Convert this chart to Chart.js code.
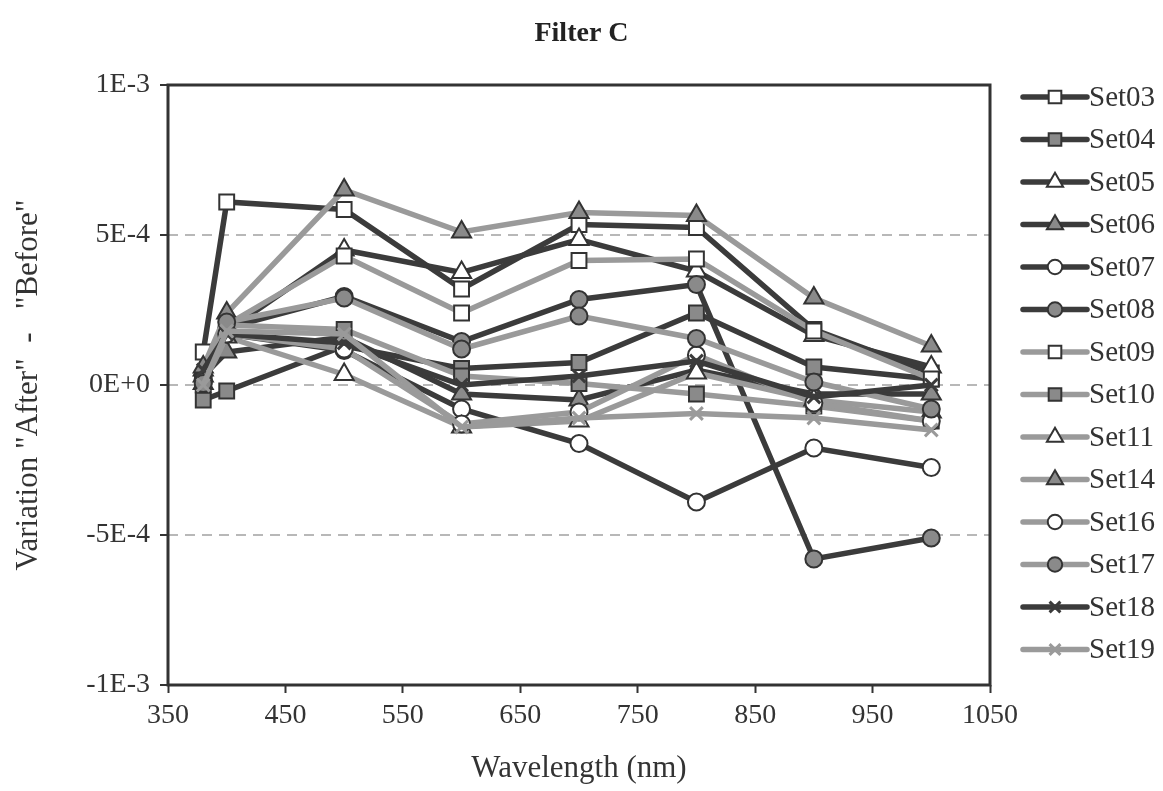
<!DOCTYPE html>
<html>
<head>
<meta charset="utf-8">
<script src="https://cdn.jsdelivr.net/npm/chart.js@4"></script>
<style>
  html, body { margin: 0; padding: 0; background: #fff; }
  #wrap { width: 1163px; height: 791px; }
</style>
</head>
<body>
<div id="wrap"><canvas id="chart" width="1163" height="791"></canvas></div>
<script>
// wavelengths (nm)
var wavelengths = [380, 400, 500, 600, 700, 800, 900, 1000];

// variation values, in units of 1E-4
var set03 = [1.1, 6.1, 5.85, 3.2, 5.35, 5.25, 1.85, 0.4];
var set04 = [-0.5, -0.2, 1.3, 0.55, 0.75, 2.4, 0.6, 0.2];
var set05 = [0.5, 1.8, 4.5, 3.75, 4.85, 3.8, 1.65, 0.6];
var set06 = [0.3, 1.1, 1.6, -0.3, -0.5, 0.5, -0.3, -0.3];
var set07 = [0.3, 1.7, 1.15, -0.8, -1.95, -3.9, -2.1, -2.75];
var set08 = [0.2, 1.9, 2.95, 1.45, 2.85, 3.35, -5.8, -5.1];
var set09 = [0.1, 2.0, 4.3, 2.4, 4.15, 4.2, 1.8, 0.2];
var set10 = [0.0, 2.0, 1.85, 0.3, 0.05, -0.3, -0.7, -1.2];
var set11 = [0.05, 1.6, 0.35, -1.4, -1.2, 0.4, -0.5, -0.9];
var set14 = [0.6, 2.4, 6.5, 5.1, 5.75, 5.65, 2.9, 1.3];
var set16 = [0.1, 1.7, 1.2, -1.3, -0.9, 1.0, -0.6, -1.2];
var set17 = [0.05, 2.1, 2.9, 1.2, 2.3, 1.55, 0.1, -0.8];
var set18 = [0.5, 1.7, 1.4, 0.0, 0.3, 0.8, -0.4, 0.0];
var set19 = [0.0, 1.8, 1.7, -1.4, -1.1, -0.95, -1.1, -1.5];

var setNames = ["Set03", "Set04", "Set05", "Set06", "Set07", "Set08", "Set09",
                "Set10", "Set11", "Set14", "Set16", "Set17", "Set18", "Set19"];
var setValues = [set03, set04, set05, set06, set07, set08, set09,
                 set10, set11, set14, set16, set17, set18, set19];

var yTicks = [-10, -5, 0, 5, 10];

var DARK = "#3b3b3b";
var GRAY = "#9a9a9a";
var FILL = "#8a8a8a";
var EDGE = "#333333";
var SERIF = "'Liberation Serif', 'Times New Roman', serif";

// line colour, marker shape, marker filled?
var looks = [
    [DARK, "rect", false], [DARK, "rect", true], [DARK, "triangle", false], [DARK, "triangle", true],
    [DARK, "circle", false], [DARK, "circle", true], [GRAY, "rect", false], [GRAY, "rect", true],
    [GRAY, "triangle", false], [GRAY, "triangle", true], [GRAY, "circle", false], [GRAY, "circle", true],
    [DARK, "crossRot", false], [GRAY, "crossRot", false]
];

function markerRadius(shape) {
    if (shape == "rect") return 10.5;
    if (shape == "triangle") return 11;
    if (shape == "circle") return 8.5;
    return 9;
}

var datasets = [];
for (var i = 0; i < setNames.length; i++) {
    var lk = looks[i];
    var pts = [];
    for (var j = 0; j < wavelengths.length; j++) {
        pts.push({x: wavelengths[j], y: setValues[i][j]});
    }
    var isCross = lk[1] == "crossRot";
    datasets.push({
        label: setNames[i],
        data: pts,
        borderColor: lk[0],
        borderWidth: 5.5,
        tension: 0,
        pointStyle: lk[1],
        pointRadius: markerRadius(lk[1]),
        pointBackgroundColor: isCross ? lk[0] : (lk[2] ? FILL : "#ffffff"),
        pointBorderColor: isCross ? lk[0] : EDGE,
        pointBorderWidth: isCross ? 3 : 2,
        order: setNames.length - i
    });
}

// box around the plot area
var frame = {
    id: "frame",
    afterDatasetsDraw: function (chart) {
        var a = chart.chartArea, ctx = chart.ctx;
        ctx.save();
        ctx.strokeStyle = EDGE;
        ctx.lineWidth = 3;
        ctx.strokeRect(a.left, a.top, a.right - a.left, a.bottom - a.top);
        ctx.restore();
    }
};

// title centred on the whole page, not just the plot
var pageTitle = {
    id: "pageTitle",
    afterDraw: function (chart) {
        var ctx = chart.ctx;
        ctx.save();
        ctx.font = "bold 28px " + SERIF;
        ctx.fillStyle = "#222";
        ctx.textAlign = "center";
        ctx.textBaseline = "middle";
        ctx.fillText("Filter C", chart.width / 2, 34);
        ctx.restore();
    }
};

// legend drawn as line + marker + name, like the spreadsheet legend
var sideLegend = {
    id: "sideLegend",
    afterDraw: function (chart) {
        var ctx = chart.ctx;
        var x0 = 1023, x1 = 1087, top = 97, step = 42.5;
        ctx.save();
        for (var i = 0; i < chart.data.datasets.length; i++) {
            var ds = chart.data.datasets[i];
            var y = top + i * step;
            ctx.strokeStyle = ds.borderColor;
            ctx.lineWidth = 5.5;
            ctx.lineCap = "round";
            ctx.beginPath();
            ctx.moveTo(x0, y);
            ctx.lineTo(x1, y);
            ctx.stroke();
            ctx.fillStyle = ds.pointBackgroundColor;
            ctx.strokeStyle = ds.pointBorderColor;
            ctx.lineWidth = ds.pointBorderWidth;
            ctx.lineCap = "butt";
            Chart.helpers.drawPoint(ctx, {
                pointStyle: ds.pointStyle,
                rotation: 0,
                radius: ds.pointRadius * 0.85,
                borderWidth: ds.pointBorderWidth
            }, (x0 + x1) / 2, y);
            ctx.font = "29px " + SERIF;
            ctx.fillStyle = "#333";
            ctx.textAlign = "left";
            ctx.textBaseline = "middle";
            ctx.fillText(ds.label, x1 + 2, y + 1);
        }
        ctx.restore();
    }
};

var ctx = document.getElementById("chart");
var myChart = new Chart(ctx, {
    type: "line",
    data: {datasets: datasets},
    options: {
        responsive: false,
        animation: false,
        layout: {padding: {left: 6, right: 173, top: 85, bottom: 4}},
        plugins: {
            legend: {display: false},
            tooltip: {enabled: false},
            title: {display: false}
        },
        scales: {
            x: {
                type: "linear",
                min: 350,
                max: 1050,
                afterFit: function (axis) { axis.height = 102; },
                ticks: {
                    stepSize: 100, color: "#333", font: {family: SERIF, size: 28}, padding: 6, maxRotation: 0,
                    callback: function (v) { return String(v); }
                },
                grid: {drawOnChartArea: false, tickColor: EDGE, tickLength: 8, tickWidth: 2},
                border: {display: false},
                title: {display: true, text: "Wavelength (nm)", color: "#333",
                        font: {family: SERIF, size: 31}, padding: {top: 4, bottom: 0}}
            },
            y: {
                min: -10,
                max: 10,
                afterFit: function (axis) { axis.width = 162; },
                afterBuildTicks: function (axis) {
                    axis.ticks = yTicks.map(function (v) { return {value: v}; });
                },
                ticks: {
                    color: "#333",
                    font: {family: SERIF, size: 28},
                    padding: 10,
                    callback: function (v) {
                        return (Math.round(v) * 1e-4).toExponential(0).toUpperCase();
                    }
                },
                grid: {
                    color: function (c) {
                        return Math.abs(c.tick.value) == 10 ? "rgba(0,0,0,0)" : "#b8b8b8";
                    },
                    lineWidth: 2,
                    tickColor: EDGE,
                    tickLength: 8,
                    tickWidth: 2
                },
                border: {display: false, dash: [10, 7]},
                title: {display: true, text: "Variation \"After\"  -   \"Before\"", color: "#333",
                        font: {family: SERIF, size: 31}, padding: {top: 4, bottom: 8}}
            }
        }
    },
    plugins: [frame, pageTitle, sideLegend]
});
</script>
</body>
</html>
